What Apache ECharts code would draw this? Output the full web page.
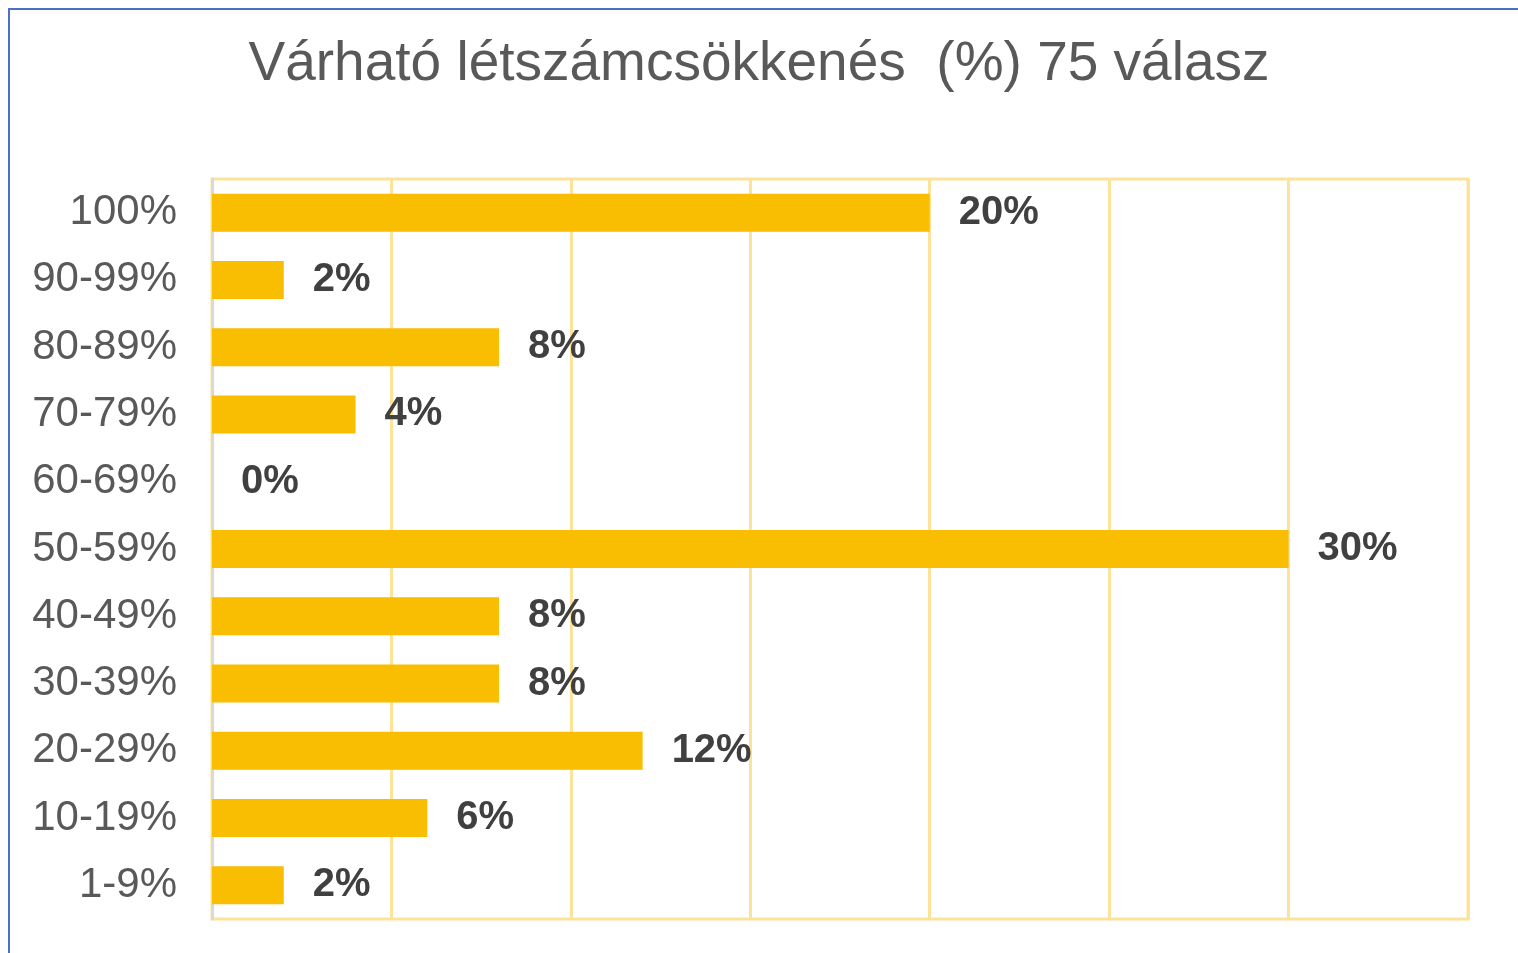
<!DOCTYPE html>
<html>
<head>
<meta charset="utf-8">
<script src="https://cdn.jsdelivr.net/npm/echarts@6/dist/echarts.min.js"></script>
<style>
  html, body { margin: 0; padding: 0; background: #fff; }
  .frame { position: absolute; left: 8px; top: 8px; width: 1510px; height: 945px;
    border-left: 2px solid #4a72c4; border-top: 2px solid #4a72c4; box-sizing: border-box; }
  #chart { position: absolute; left: 0; top: 0; width: 1518px; height: 953px; }
</style>
</head>
<body>
<div class="frame"></div>
<div id="chart"></div>
<script>
const categories = ['100%', '90-99%', '80-89%', '70-79%', '60-69%', '50-59%', '40-49%', '30-39%', '20-29%', '10-19%', '1-9%'];
const values = [20, 2, 8, 4, 0, 30, 8, 8, 12, 6, 2];
const titleText = 'Várható létszámcsökkenés  (%) 75 válasz';

const chart = echarts.init(document.getElementById('chart'));
chart.setOption({
  animation: false,
  title: {
    text: titleText, left: 'center', top: 32,
    textStyle: { color: '#595959', fontSize: 55, fontWeight: 'normal', fontFamily: 'Liberation Sans, Arial, sans-serif' }
  },
  grid: {
    left: 212, right: 50, top: 179, bottom: 34,
    show: true, borderColor: '#fde39a', borderWidth: 3
  },
  xAxis: {
    type: 'value', min: 0, max: 35, interval: 5,
    axisLabel: { show: false },
    axisLine: { show: false }, axisTick: { show: false },
    splitLine: { lineStyle: { color: '#fde39a', width: 3 } }
  },
  yAxis: {
    type: 'category', data: categories, inverse: true,
    axisTick: { show: false },
    axisLine: { lineStyle: { color: '#d9d9d9', width: 3 } },
    axisLabel: { color: '#595959', fontSize: 42, margin: 35, fontFamily: 'Liberation Sans, Arial, sans-serif' }
  },
  series: [{
    type: 'bar', data: values, barWidth: 38,
    itemStyle: { color: '#f9bd02' },
    label: {
      show: true, position: 'right', distance: 29, formatter: '{c}%',
      color: '#404040', fontSize: 40, fontWeight: 'bold', fontFamily: 'Liberation Sans, Arial, sans-serif'
    }
  }]
});
</script>
</body>
</html>
